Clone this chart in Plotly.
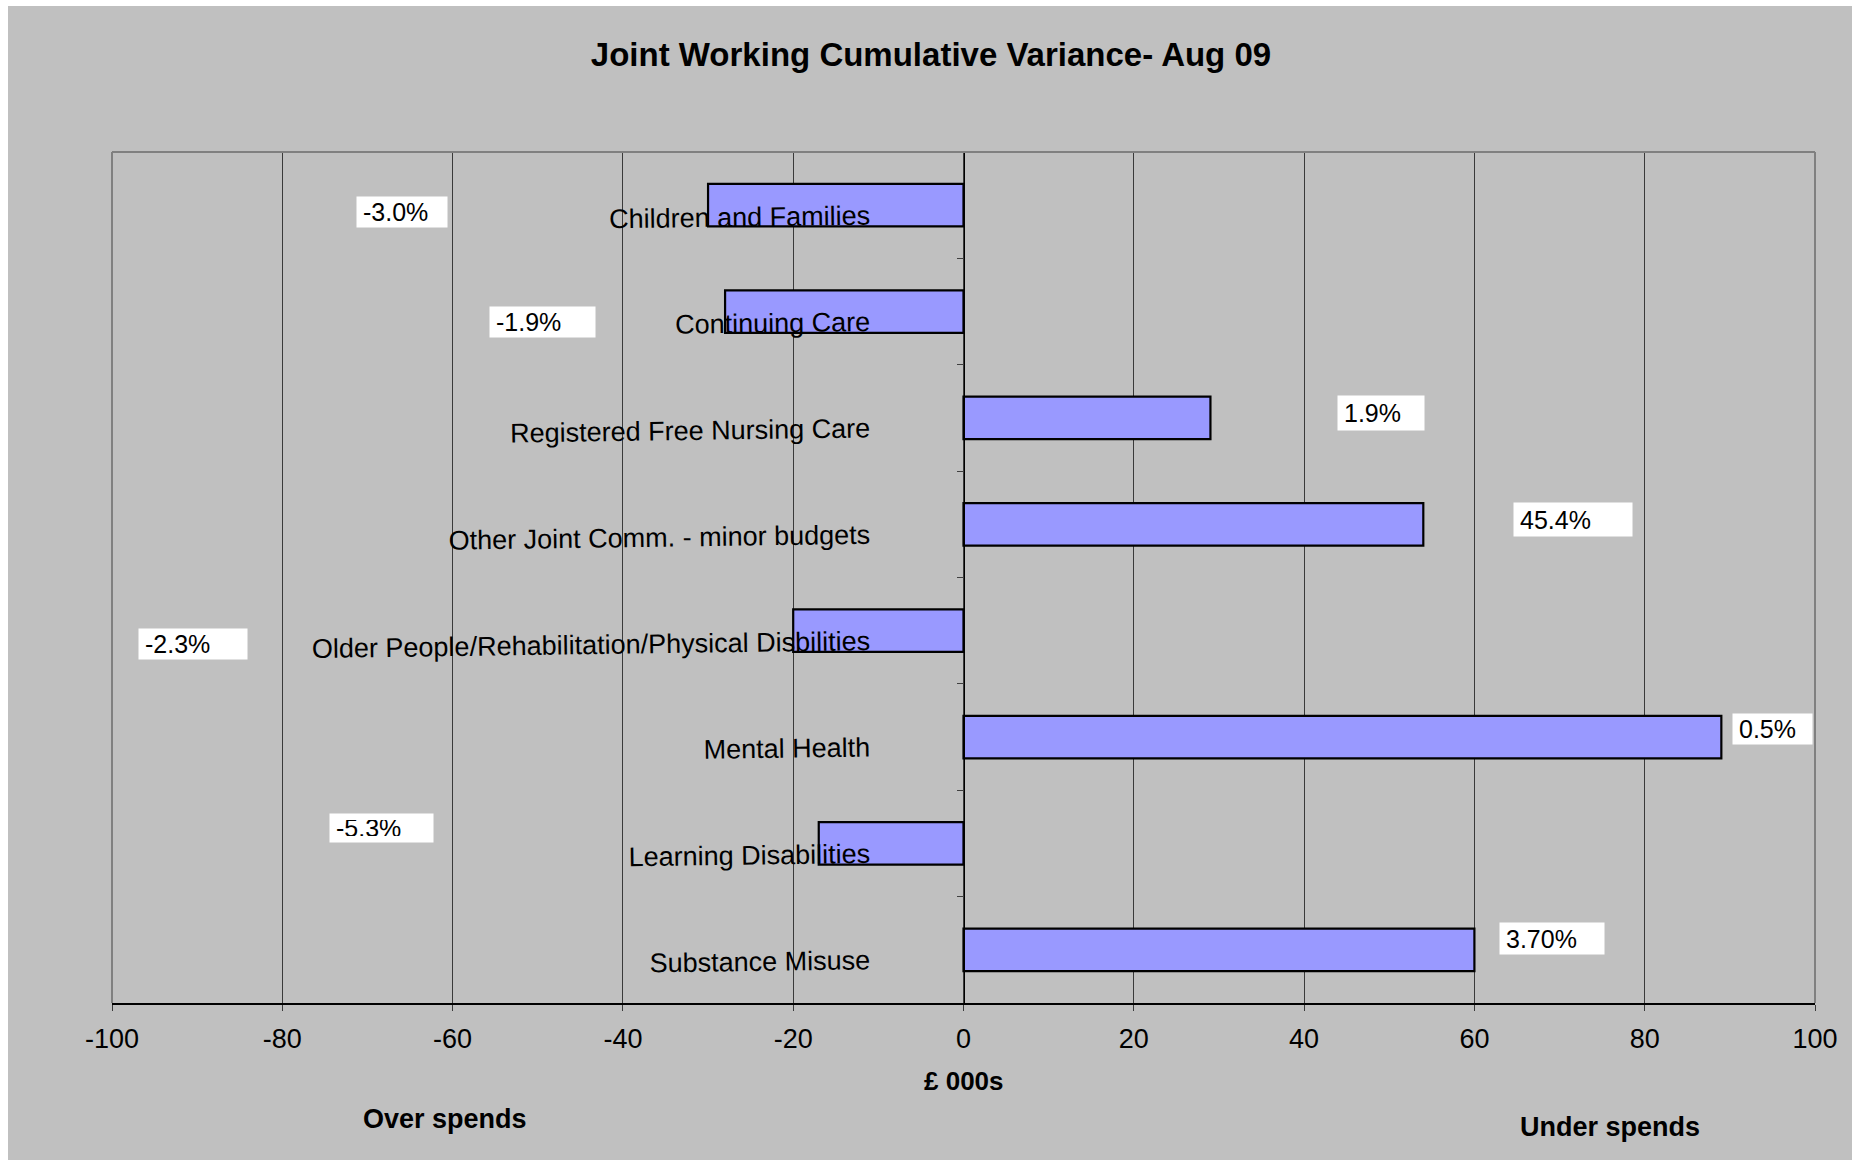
import plotly.graph_objects as go

# Budget lines, top to bottom
categories = [
    "Children and Families",
    "Continuing Care",
    "Registered Free Nursing Care",
    "Other Joint Comm. - minor budgets",
    "Older People/Rehabilitation/Physical Disbilities",
    "Mental Health",
    "Learning Disabilities",
    "Substance Misuse",
]
# Cumulative variance, £000s (negative = over spend)
variance = [-30, -28, 29, 54, -20, 89, -17, 60]
# Percentage variance shown in the white label boxes
pct_labels = ["-3.0%", "-1.9%", "1.9%", "45.4%", "-2.3%", "0.5%", "-5.3%", "3.70%"]
x_ticks = [-100, -80, -60, -40, -20, 0, 20, 40, 60, 80, 100]

# Label box placement: left edge on the £000s scale, vertical shift (px), box size (px)
label_left = [-71.3, -55.7, 43.9, 64.5, -97.0, 90.3, -74.5, 62.9]
label_shift = [-7, -10, 5, 5, -13, 8, 15, 11.5]
label_w = [90, 105, 86, 118, 108, 79, 103, 104]
label_h = [30, 30, 34, 33, 30, 30, 28, 31]

FONT = "Liberation Sans, Arial, sans-serif"
GREY = "#C0C0C0"
W, H = 1852, 1162
ML, MR, MT, MB = 112, 37, 152, 159
PW, PH = W - ML - MR, H - MT - MB

fig = go.Figure()
fig.add_trace(go.Bar(
    x=variance,
    y=categories,
    orientation="h",
    width=0.40,
    marker=dict(color="#9999FF", line=dict(color="black", width=2.2)),
    hoverinfo="x+y",
))

pad = 6
for txt, xl, dy, bw, bh, cat in zip(pct_labels, label_left, label_shift, label_w, label_h, categories):
    fig.add_annotation(
        x=xl, y=cat, xref="x", yref="y",
        xanchor="left", yanchor="middle", yshift=dy,
        text=txt, showarrow=False, align="left", valign="middle",
        width=bw - 2 * pad, height=bh - 2 * pad, borderpad=pad,
        bgcolor="white", font=dict(family=FONT, size=25, color="black"),
    )

# Axis caption and spend-direction notes under the value axis
def px_down(p):
    return -(p - (MT + PH))

fig.add_annotation(x=0, y=0, xref="x", yref="paper", yanchor="middle", yshift=px_down(1081),
                   text="<b>£ 000s</b>", showarrow=False,
                   font=dict(family=FONT, size=26, color="black"))
fig.add_annotation(x=-60.9, y=0, xref="x", yref="paper", yanchor="middle", yshift=px_down(1119),
                   text="<b>Over spends</b>", showarrow=False,
                   font=dict(family=FONT, size=27, color="black"))
fig.add_annotation(x=75.9, y=0, xref="x", yref="paper", yanchor="middle", yshift=px_down(1127),
                   text="<b>Under spends</b>", showarrow=False,
                   font=dict(family=FONT, size=27, color="black"))

# Grey chart area behind everything, and the grey plot-area frame
fig.add_shape(type="rect", xref="paper", yref="paper", layer="below",
              x0=(8 - ML) / PW, x1=(W + 4 - ML) / PW,
              y0=(MT + PH - 1160) / PH, y1=(MT + PH - 6) / PH,
              line=dict(width=0), fillcolor=GREY)
for x0, y0, x1, y1 in [(0, 1, 1, 1), (0, 0, 0, 1), (1, 0, 1, 1)]:
    fig.add_shape(type="line", xref="paper", yref="paper", layer="above",
                  x0=x0, y0=y0, x1=x1, y1=y1, line=dict(color="#808080", width=2))

fig.update_layout(
    width=W, height=H,
    margin=dict(l=ML, r=MR, t=MT, b=MB, autoexpand=False),
    paper_bgcolor="white",
    plot_bgcolor=GREY,
    showlegend=False,
    font=dict(family=FONT, color="black"),
    title=dict(text="<b>Joint Working Cumulative Variance- Aug 09</b>",
               x=931 / W, xref="container", xanchor="center",
               y=1 - 54 / H, yref="container", yanchor="middle",
               font=dict(family=FONT, size=33, color="black")),
    xaxis=dict(
        range=[-100, 100],
        tickvals=x_ticks, ticktext=[str(v) for v in x_ticks],
        showgrid=True, gridcolor="#3a3a3a", gridwidth=1,
        zeroline=False, showline=True, linecolor="black", linewidth=2,
        ticks="outside", ticklen=6, tickcolor="#3a3a3a", tickwidth=1,
        tickfont=dict(family=FONT, size=27, color="black"),
        ticklabelstandoff=5, fixedrange=True,
    ),
    yaxis=dict(
        type="category", categoryorder="array", categoryarray=categories,
        autorange="reversed",
        anchor="free", position=0.5,
        showline=True, linecolor="black", linewidth=1,
        ticks="outside", tickson="boundaries", ticklen=7, tickcolor="#404040", tickwidth=1,
        showgrid=False, zeroline=False,
        tickfont=dict(family=FONT, size=27, color="black"),
        tickangle=-0.8, ticklabelstandoff=88, ticklabelshift=-10,
        fixedrange=True,
    ),
)

fig.write_html("out.html")
